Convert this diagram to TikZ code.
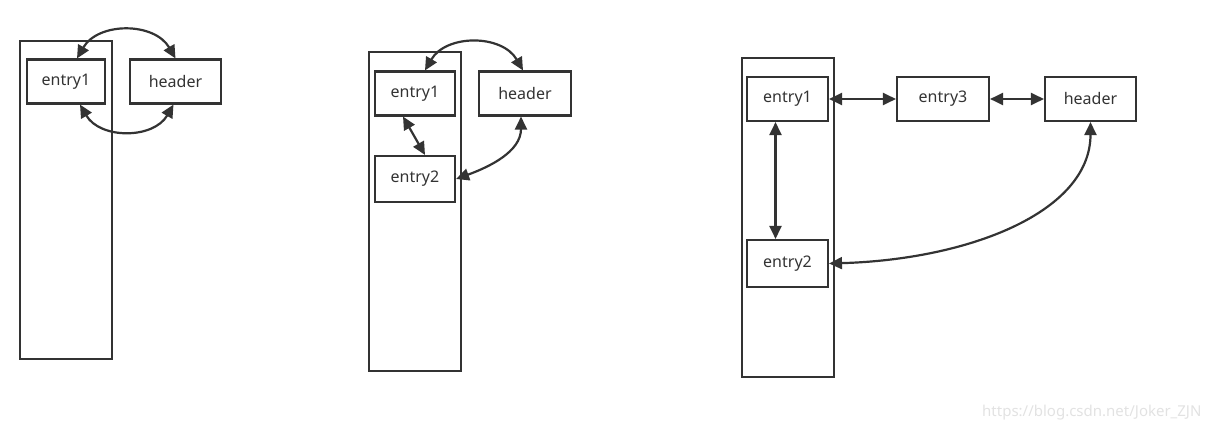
\documentclass[tikz,border=0pt]{standalone}
\usepackage{fontspec}
\setmainfont{Noto Sans}
\usetikzlibrary{arrows.meta}
\definecolor{gEdge}{HTML}{333333}
\definecolor{gText}{HTML}{333333}
\definecolor{gMark}{HTML}{E2E2E2}

\begin{document}
\begin{tikzpicture}[
  x=1pt, y=-1pt, font=\fontsize{16}{19}\selectfont, text=gText,
  col/.style={draw=gEdge, line width=2.1pt, inner sep=0pt},
  blk/.style={draw=gEdge, line width=2.1pt, inner sep=0pt, minimum height=44pt},
  ar/.style={{Triangle[length=13pt,width=12pt]}-{Triangle[length=13pt,width=12pt]},
             draw=gEdge, line width=2.2pt},
]
\path[use as bounding box] (0,0) rectangle (1212,433);

% ============================================================ 1. one entry
\node[col, minimum width=92pt, minimum height=318pt] at (66,200) (colA) {};
\node[blk, minimum width=78pt] at (66,81.5)    (eA1) {entry1};
\node[blk, minimum width=91pt] at (175.5,81.5) (hA)  {header};

\draw[ar] ([xshift=11pt]eA1.north) to[out=60, in=120, looseness=1.1] (hA.north);
\draw[ar] ([xshift=14pt]eA1.south) to[out=-60, in=-120, looseness=1.1] ([xshift=-2pt]hA.south);

% ============================================================ 2. two entries
\node[col, minimum width=92pt, minimum height=319pt] at (415,211.5) (colB) {};
\node[blk, minimum width=80pt] at (415,93.5) (eB1) {entry1};
\node[blk, minimum width=92pt] at (525,93.5) (hB)  {header};
\node[blk, minimum width=80pt, minimum height=46pt] at (415,179) (eB2) {entry2};

\draw[ar] ([xshift=10pt]eB1.north) to[out=60, in=120, looseness=1.1] ([xshift=-2pt]hB.north);
\draw[ar] ([xshift=-12pt]eB1.south) -- ([xshift=10pt]eB2.north);
\draw[ar] ([xshift=-4pt]hB.south) to[out=-90, in=20] (eB2.east);

% ============================================================ 3. three entries
\node[col, minimum width=92pt, minimum height=319pt] at (788,217.5) (colC) {};
\node[blk, minimum width=81pt] at (787.5,99) (eC1) {entry1};
\node[blk, minimum width=92pt] at (943,99)   (eC3) {entry3};
\node[blk, minimum width=91pt] at (1090.5,99) (hC) {header};
\node[blk, minimum width=81pt, minimum height=47pt] at (787.5,263.5) (eC2) {entry2};

\draw[ar] (eC1.east) -- (eC3.west);
\draw[ar] (eC3.east) -- (hC.west);
\draw[ar] ([xshift=-12pt]eC1.south) -- ([xshift=-12pt]eC2.north);
\draw[ar] (hC.south) .. controls +(0,90) and +(140,-4) .. (eC2.east);

% watermark
\node[text=gMark, font=\fontsize{15}{17}\selectfont, anchor=east] at (1205,413) (mark)
  {https://blog.csdn.net/Joker\_ZJN};

\end{tikzpicture}
\end{document}
